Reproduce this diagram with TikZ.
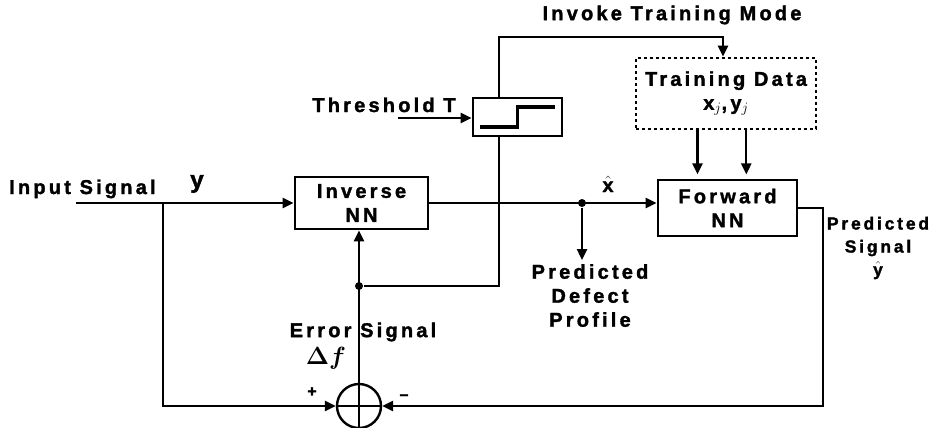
\documentclass[tikz,border=0pt]{standalone}
\usepackage{amsmath, amssymb, bm}
\usepackage{fontspec}
\setmainfont{Liberation Sans}[LetterSpace=16, BoldFeatures={FakeBold=1.6}]
\usetikzlibrary{arrows.meta,positioning,calc}

\begin{document}
\begin{tikzpicture}[x=1pt, y=-1pt, line width=2.4pt,
  font=\bfseries\fontsize{20}{24}\selectfont,
  box/.style={draw, line width=2.8pt, align=center, inner sep=0pt},
  lbl/.style={align=center, inner sep=0pt},
  arr/.style={-{Triangle[length=11pt,width=10pt]}},
  dot/.style={circle, fill, inner sep=0pt, minimum size=8pt}]

\useasboundingbox (0,0) rectangle (940,428);

\node (inv) [box, minimum width=133pt, minimum height=52pt] at (361.5,203) {Inverse\\NN};
\node (fwd) [box, minimum width=139pt, minimum height=56pt] at (727.5,208) {Forward\\NN};
\node (thr) [box, minimum width=89pt, minimum height=38pt] at (517.5,117) {};
\node (tdata) [box, dashed, minimum width=180pt, minimum height=71pt] at (726,93.5) {Training Data\\x$_{j}$,\,y$_{j}$};
\node (sum) [draw, circle, minimum size=44pt, inner sep=0pt] at (359,406) {};
\draw (sum.north) -- (sum.south) (sum.west) -- (sum.east);

% step inside the threshold block
\draw[line width=3.2pt] ($(thr.center)+(-38,10)$) -- ++(38,0) -- ++(0,-20) -- ++(37,0);

\node (insig) [lbl, anchor=base west] at (8,194) {Input Signal};
\node (ylbl) [lbl, font=\bfseries\fontsize{24}{24}\selectfont] at (197,184) {y};
\node (thrl) [lbl, anchor=base] at (384,112) {Threshold T};
\node (itm) [lbl] at (672,15) {Invoke Training Mode};
\node (xhat) [lbl] at (608,184) {$\hat{\text{\bfseries x}}$};
\node (dpl) [lbl, anchor=north] at (590,263) {Predicted\\Defect\\Profile};
\node (psig) [lbl, font=\bfseries\fontsize{17.5}{23}\selectfont] at (878,248) {Predicted\\Signal\\$\hat{\text{\bfseries y}}$};
\node (err) [lbl] at (363,332) {Error Signal};
\node (df) [lbl, font=\boldmath\fontsize{26}{26}\selectfont] at (326,358) {$\Delta f$};
\node (pl) [lbl, font=\bfseries\fontsize{16}{16}\selectfont] at (312,392) {+};
\node (mi) [lbl, font=\bfseries\fontsize{16}{16}\selectfont] at (404,397) {--};

\coordinate (in) at (76,203);
\coordinate (bl) at (163,203);
\coordinate (dp) at (582,260);
\coordinate (tin) at (398,118);
\coordinate (tm) at (723,37);
\coordinate (oc) at (823,208);
\node (jx) [dot] at (582,203) {};
\node (je) [dot] at (359,286) {};

\draw[arr] (in) -- (inv.west);
\draw[arr] (inv.east) -- (inv.east -| fwd.west);
\draw[arr] (jx) -- (dp);
\draw[arr] (bl) |- (sum.west);
\draw[arr] (sum.north) -- (sum.north |- inv.south);
\draw (je) -| ($(thr.south west)!0.3!(thr.south east)$);
\draw[arr] ($(thr.north west)!0.3!(thr.north east)$) |- (tm) -- (tm |- tdata.north);
\draw[arr] (tin) -- (tin -| thr.west);
\draw[arr] ($(tdata.south west)!0.344!(tdata.south east)$) -- ++(0,44);
\draw[arr] ($(tdata.south west)!0.611!(tdata.south east)$) -- ++(0,44);
\draw[arr] (fwd.east) -- (oc) |- (sum.east);

\end{tikzpicture}
\end{document}
